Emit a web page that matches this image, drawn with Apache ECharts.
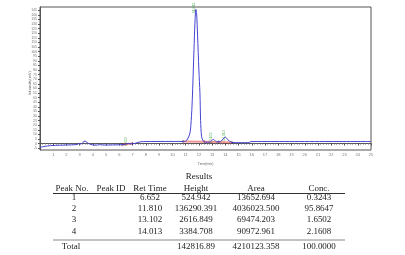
<!DOCTYPE html>
<html>
<head>
<meta charset="utf-8">
<script src="https://cdn.jsdelivr.net/npm/echarts@6/dist/echarts.min.js"></script>
<style>
  html, body { margin: 0; padding: 0; background: #fff; }
  #chart { width: 405px; height: 255px; }
</style>
</head>
<body>
<div id="chart"></div>
<script>
// chromatogram trace: [time (min), signal]
var trace = [
  [0, -4.3], [0.3, -3.2], [0.8, -2.2], [1.5, -1.8], [2.4, -1.4], [2.8, -1.0],
  [2.95, 0.2], [3.1, -0.6], [3.25, 1.5], [3.4, 2.8], [3.55, 1.2], [3.8, -0.8],
  [4.2, -1.8], [4.5, -1.2], [4.8, -1.6], [5.5, -1.5], [6.2, -1.2], [6.5, -0.6],
  [6.65, 0.3], [6.8, -0.4], [7.2, 0.3], [7.6, 2.0], [8.0, 2.2], [9.5, 2.3],
  [10.8, 2.3], [11.0, 2.6], [11.15, 5], [11.33, 11.6], [11.42, 25], [11.5, 47],
  [11.63, 102], [11.7, 130], [11.77, 146], [11.83, 141], [11.9, 118], [12.0, 80],
  [12.08, 55], [12.13, 25], [12.2, 8], [12.3, 3.5], [12.4, 2], [12.5, 1.5],
  [12.8, 1.6], [13.1, 4.5], [13.35, 1.8], [13.6, 2.0], [14.0, 7.0], [14.2, 4],
  [14.5, 1.2], [15.0, 1.0], [15.85, 1.0], [15.9, 2.2], [25, 2.2]
];
// integration baselines
var baseline1 = [[6.2, -1.2], [7.0, 0.2]];
var baseline2 = [[10.8, 2.3], [12.4, 2.0], [13.5, 1.8], [14.5, 1.2]];
var peakMarks = [[6.2, -1.2], [7.0, 0.2], [10.8, 2.3], [12.4, 2.0], [13.5, 1.8], [14.5, 1.2]];
// peak apex labels
var peakRt = [6.652, 11.81, 13.102, 14.013];
var peakApex = [0.3, 146, 4.5, 7.0];

// results table
var tableHeader = ["Peak No.", "Peak ID", "Ret Time", "Height", "Area", "Conc."];
var peakNo = ["1", "2", "3", "4"];
var peakId = ["", "", "", ""];
var retTime = ["6.652", "11.810", "13.102", "14.013"];
var heights = ["524.942", "136290.391", "2616.849", "3384.708"];
var areas = ["13652.694", "4036023.500", "69474.203", "90972.961"];
var concs = ["0.3243", "95.8647", "1.6502", "2.1608"];
var totals = ["Total", "", "", "142816.89", "4210123.358", "100.0000"];

var yTicks = [];
for (var v = -5; v <= 145; v += 5) yTicks.push(v);

var colX = [74, 111, 150, 196, 256, 319];
var rowY = [198, 209.2, 220.4, 231.6];
var tableFont = '8px "Liberation Serif"';

function txt(s, x, y) {
  return {
    type: "text", x: x, y: y, scaleX: 1.12, silent: true,
    style: { text: s, font: tableFont, fill: "#222", align: "center", verticalAlign: "middle" }
  };
}

var graphics = [];
graphics.push(txt("Results", 199, 177));
tableHeader.forEach(function (h, i) {
  graphics.push(txt(h, i === 0 ? 72 : colX[i], 188.5));
});
var cols = [peakNo, peakId, retTime, heights, areas, concs];
cols.forEach(function (col, c) {
  col.forEach(function (s, r) {
    if (s) graphics.push(txt(s, colX[c], rowY[r]));
  });
});
totals.forEach(function (s, c) {
  if (s) graphics.push(txt(s, c === 0 ? 71 : colX[c], 246.5));
});
graphics.push({ type: "line", silent: true, shape: { x1: 53, y1: 193.5, x2: 345, y2: 193.5 }, style: { stroke: "#333", lineWidth: 1.2 } });
graphics.push({ type: "line", silent: true, shape: { x1: 53, y1: 240, x2: 345, y2: 240 }, style: { stroke: "#888", lineWidth: 1 } });
graphics.push({
  type: "text", x: 30, y: 83, rotation: Math.PI / 2, silent: true,
  style: { text: "Intensity(mV)", font: '3.5px "DejaVu Sans"', fill: "#666", align: "center", verticalAlign: "middle" }
});

var chart = echarts.init(document.getElementById("chart"));
chart.setOption({
  animation: false,
  grid: {
    left: 40, top: 7, right: 34, bottom: 105,
    show: true, borderColor: "#555", borderWidth: 1
  },
  xAxis: {
    type: "value", min: 0, max: 25, interval: 1,
    name: "Time(min)", nameLocation: "middle", nameGap: 7,
    nameTextStyle: { fontSize: 3.5, color: "#666" },
    axisLine: { lineStyle: { color: "#555" } },
    axisTick: { length: 2, lineStyle: { color: "#555" } },
    minorTick: { show: true, splitNumber: 5, length: 1, lineStyle: { color: "#777" } },
    splitLine: { show: false },
    axisLabel: { fontSize: 4, color: "#777", margin: 3, showMinLabel: false }
  },
  yAxis: {
    type: "value", min: -7, max: 148.5,
    axisLine: { show: true, lineStyle: { color: "#555" } },
    axisTick: { show: true, length: 2, customValues: yTicks, lineStyle: { color: "#555" } },
    splitLine: { show: false },
    axisLabel: { fontSize: 3.5, color: "#777", margin: 3, customValues: yTicks }
  },
  series: [
    {
      type: "line", data: baseline1, symbol: "none", silent: true,
      lineStyle: { color: "rgba(230,60,60,0.6)", width: 2 }
    },
    {
      type: "line", data: baseline2, symbol: "none", silent: true,
      lineStyle: { color: "rgba(230,60,60,0.55)", width: 2 }
    },
    {
      type: "line", data: trace, symbol: "none", smooth: 0.3, silent: true,
      lineStyle: { color: "#4343d2", width: 1 }
    },
    {
      type: "scatter", data: peakMarks, symbol: "rect", symbolSize: [0.8, 3], silent: true,
      itemStyle: { color: "#222" }
    },
    {
      type: "scatter", symbolSize: 0, silent: true,
      data: peakRt.map(function (t, i) { return [t, peakApex[i]]; }),
      label: {
        show: true, position: "top", distance: 1.5, rotate: 90,
        fontSize: 3.5, color: "#2a9a2a",
        formatter: function (p) { return p.value[0].toFixed(3); }
      }
    }
  ],
  graphic: graphics
});
</script>
</body>
</html>
